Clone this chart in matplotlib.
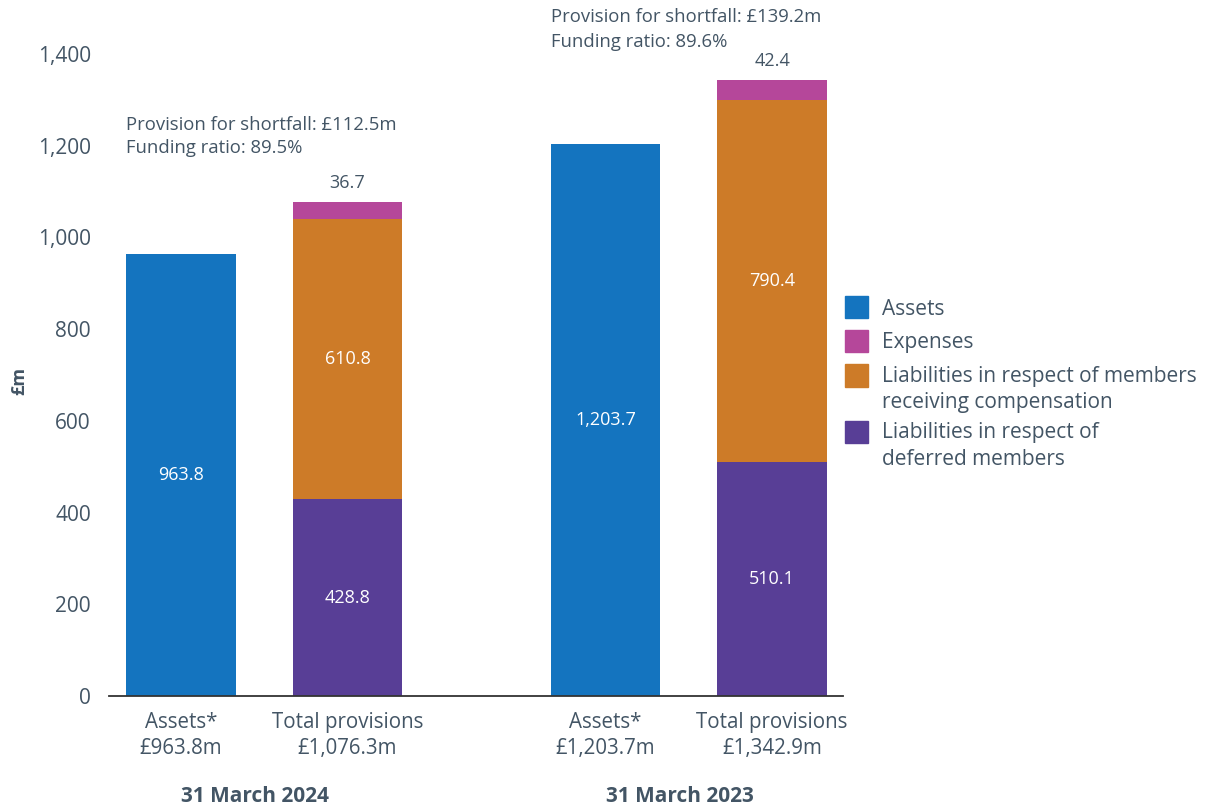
import matplotlib
matplotlib.use("Agg")
import matplotlib.pyplot as plt
from matplotlib.patches import Rectangle

plt.rcParams['font.family'] = ['Open Sans', 'DejaVu Sans']

# Data (£m)
bar_labels = ["Assets*\n£963.8m", "Total provisions\n£1,076.3m",
              "Assets*\n£1,203.7m", "Total provisions\n£1,342.9m"]
group_labels = ["31 March 2024", "31 March 2023"]
assets = [963.8, 0, 1203.7, 0]
deferred = [0, 428.8, 0, 510.1]
receiving = [0, 610.8, 0, 790.4]
expenses = [0, 36.7, 0, 42.4]
notes = [["Provision for shortfall: £112.5m", "Funding ratio: 89.5%"],
         ["Provision for shortfall: £139.2m", "Funding ratio: 89.6%"]]
legend_labels = ["Assets", "Expenses",
                 "Liabilities in respect of members\nreceiving compensation",
                 "Liabilities in respect of\ndeferred members"]

C_ASSETS = "#1474bf"
C_EXP = "#b5479a"
C_RECV = "#cd7b28"
C_DEF = "#583e96"
TXT = "#435565"
FS = 13

W, H = 1206, 805
fig = plt.figure(figsize=(W / 100, H / 100), dpi=100)
ax = fig.add_axes([109 / W, (H - 696) / H, 734 / W, 642 / H])

xs = [0, 1, 2.55, 3.55]
bw = 0.66

ax.bar(xs, assets, bw, color=C_ASSETS)
ax.bar(xs, deferred, bw, color=C_DEF)
ax.bar(xs, receiving, bw, bottom=deferred, color=C_RECV)
bot3 = [d + r for d, r in zip(deferred, receiving)]
ax.bar(xs, expenses, bw, bottom=bot3, color=C_EXP)

ax.set_xlim(-0.432, 3.976)
ax.set_ylim(0, 1400)
ax.set_yticks(range(0, 1401, 200))
ax.set_yticklabels([f"{v:,}" for v in range(0, 1401, 200)])
ax.tick_params(axis='y', length=0, pad=13, labelsize=15, labelcolor=TXT)
ax.tick_params(axis='x', length=0, pad=11.5, labelsize=14.8, labelcolor=TXT)
ax.set_xticks(xs)
ax.set_xticklabels(bar_labels, linespacing=1.3)
for s in ["top", "right", "left"]:
    ax.spines[s].set_visible(False)
ax.spines["bottom"].set_color("#333333")
ax.spines["bottom"].set_linewidth(1.3)

ax.set_ylabel("£m", fontsize=FS, fontweight="bold", color=TXT)
ax.yaxis.set_label_coords(-0.11, 0.49)

# values inside bars
for x, v in zip(xs, assets):
    if v:
        ax.text(x, v / 2, f"{v:,.1f}", ha="center", va="center", color="white", fontsize=FS)
for x, d, r, e in zip(xs, deferred, receiving, expenses):
    if d:
        ax.text(x, d / 2, f"{d:,.1f}", ha="center", va="center", color="white", fontsize=FS)
        ax.text(x, d + r / 2, f"{r:,.1f}", ha="center", va="center", color="white", fontsize=FS)
        ax.annotate(f"{e:,.1f}", (x, d + r + e), xytext=(0, 14), textcoords="offset points",
                    ha="center", va="center", color=TXT, fontsize=FS, annotation_clip=False)

# shortfall notes above each group (y in £m units)
note_y = [(1245, 1195), (1480, 1426)]
for gi, (lines, ys) in enumerate(zip(notes, note_y)):
    x_left = xs[2 * gi] - bw / 2
    for line, y in zip(lines, ys):
        ax.text(x_left, y, line, ha="left", va="center", color=TXT, fontsize=13.3, clip_on=False)

# group labels
for gi, g in enumerate(group_labels):
    xc = (xs[2 * gi] + xs[2 * gi + 1]) / 2 - 0.055
    ax.text(xc, -0.156, g, transform=ax.get_xaxis_transform(), ha="center", va="center",
            fontsize=15, fontweight="bold", color=TXT)

# legend
leg_colors = [C_ASSETS, C_EXP, C_RECV, C_DEF]
sq_tops = [296, 330, 364, 421]
baselines = [[315], [348], [381.5, 408], [438, 464.5]]
for col, top, lab, bls in zip(leg_colors, sq_tops, legend_labels, baselines):
    fig.add_artist(Rectangle((845 / W, (H - top - 22.5) / H), 22.5 / W, 22.5 / H,
                             transform=fig.transFigure, color=col))
    for line, bl in zip(lab.split("\n"), bls):
        fig.text(882 / W, (H - bl) / H, line, ha="left", va="baseline", fontsize=15, color=TXT)

fig.savefig("out.png", dpi=100)
